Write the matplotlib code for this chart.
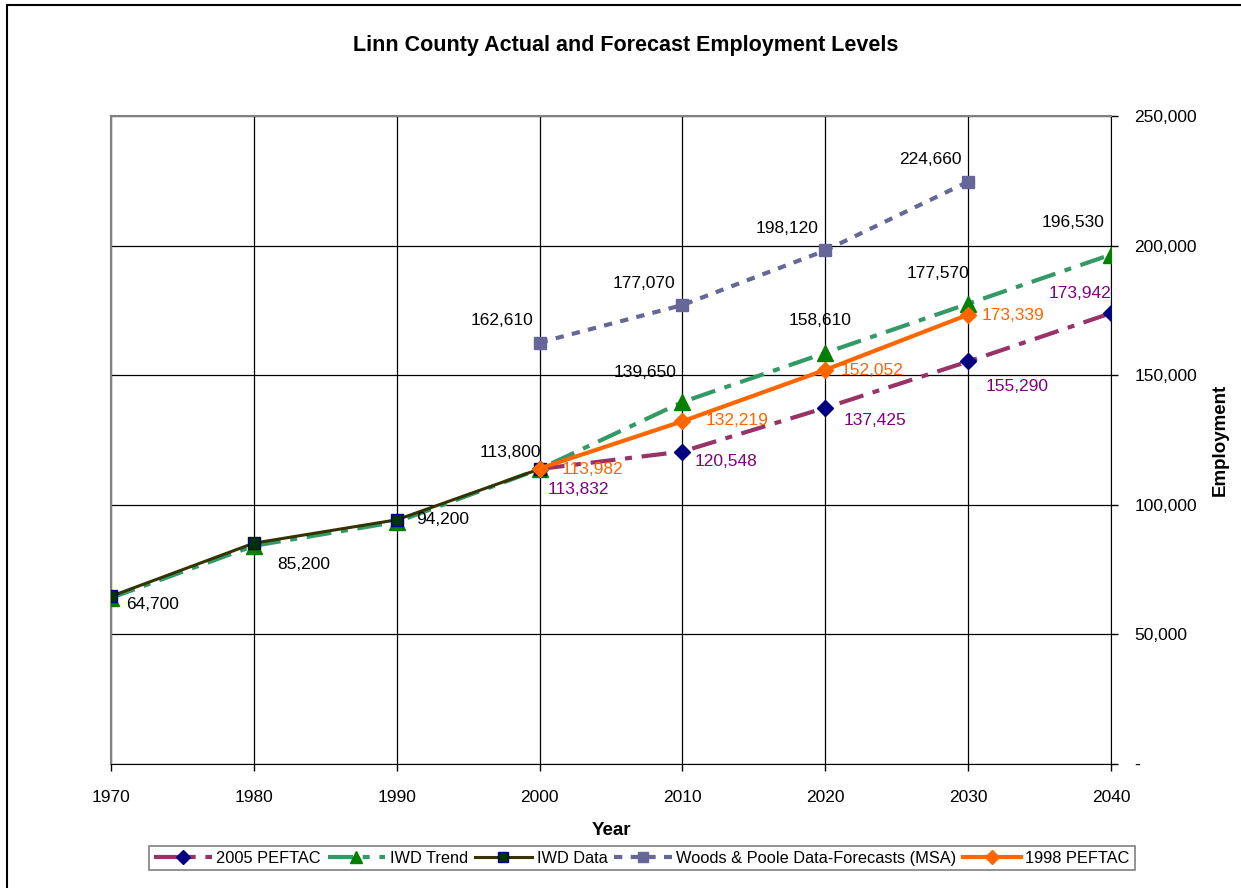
import matplotlib
matplotlib.use('Agg')
import matplotlib.pyplot as plt
from matplotlib.patches import Rectangle
from matplotlib.ticker import FuncFormatter

plt.rcParams['font.family'] = ['Liberation Sans', 'DejaVu Sans']
plt.rcParams['lines.scale_dashes'] = False

# data
years_all = [1970, 1980, 1990, 2000, 2010, 2020, 2030, 2040]
years_fc = [2000, 2010, 2020, 2030, 2040]
years_wp = [2000, 2010, 2020, 2030]
years_data = [1970, 1980, 1990, 2000]

peftac_2005 = [113832, 120548, 137425, 155290, 173942]
iwd_trend = [64100, 84200, 93400, 113800, 139650, 158610, 177570, 196530]
iwd_data = [64700, 85200, 94200, 113800]
woods_poole = [162610, 177070, 198120, 224660]
peftac_1998 = [113982, 132219, 152052, 173339]

fig = plt.figure(figsize=(12.41, 8.88), dpi=100)
ax = fig.add_axes([111 / 1241, 1 - 764 / 888, 1000 / 1241, 648 / 888])

# outer chart border (right and bottom edges fall outside the image)
fig.patches.append(Rectangle((7 / 1241, -0.05), 1.1, 1.05 - 5 / 888,
                             transform=fig.transFigure, fill=False,
                             edgecolor='black', linewidth=1.5))

ax.plot(years_all, iwd_trend, color='#339966', lw=3, dashes=(18, 7, 5, 7),
        marker='^', ms=11, mfc='#008000', mec='#008000', zorder=3,
        label='IWD Trend')
ax.plot(years_data, iwd_data, color='#333300', lw=2.2,
        marker='s', ms=8.5, mfc='#003300', mec='#000080', zorder=4,
        label='IWD Data')
ax.plot(years_wp, woods_poole, color='#666699', lw=3, dashes=(6, 6),
        marker='s', ms=8, mfc='#666699', mec='#666699', zorder=3,
        label='Woods & Poole Data-Forecasts (MSA)')
ax.plot(years_fc, peftac_2005, color='#993366', lw=3, dashes=(18, 7, 5, 7),
        marker='D', ms=8, mfc='#000080', mec='#000080', zorder=5,
        label='2005 PEFTAC')
ax.plot(years_wp, peftac_1998, color='#FF6600', lw=3,
        marker='D', ms=8, mfc='#FF6600', mec='#FF6600', zorder=6,
        label='1998 PEFTAC')

fs = 12.5


def lab(x, y, txt, dx, dy, color='black', ha='center'):
    ax.annotate(txt, (x, y), xytext=(dx, dy), textcoords='offset pixels',
                ha=ha, va='center', fontsize=fs, color=color, zorder=7)


def fmt(v):
    return f'{v:,}'

# IWD data labels
lab(1970, iwd_data[0], fmt(iwd_data[0]), 42, -8)
lab(1980, iwd_data[1], fmt(iwd_data[1]), 50, -21)
lab(1990, iwd_data[2], fmt(iwd_data[2]), 46, 0)
lab(2000, iwd_data[3], fmt(iwd_data[3]), -29, 17)
# IWD trend labels
for y, v, dx, dy in zip(years_all[4:], iwd_trend[4:], [-37, -5, -30, -38], [30, 32, 30, 32]):
    lab(y, v, fmt(v), dx, dy)
# Woods & Poole labels
for y, v in zip(years_wp, woods_poole):
    lab(y, v, fmt(v), -38, 22)
# 2005 PEFTAC labels
for y, v, dx, dy in zip(years_fc, peftac_2005, [39, 44, 50, 49, -31],
                        [-21, -10, -13, -25, 20]):
    lab(y, v, fmt(v), dx, dy, color='#800080')
# 1998 PEFTAC labels
for y, v, dx, dy in zip(years_wp, peftac_1998, [53, 55, 47, 45], [-1, 1, -1, -1]):
    lab(y, v, fmt(v), dx, dy, color='#FF6600')

ax.set_xlim(1970, 2040)
ax.set_ylim(0, 250000)
ax.set_xticks(years_all)
ax.set_yticks(range(0, 250001, 50000))
ax.yaxis.tick_right()
ax.yaxis.set_label_position('right')
ax.yaxis.set_major_formatter(FuncFormatter(lambda v, p: '-' if v == 0 else f'{int(v):,}'))
ax.tick_params(axis='both', labelsize=fs, length=5, width=1, color='black', direction='out')
ax.tick_params(axis='x', pad=14)
ax.tick_params(axis='y', pad=12)
ax.grid(True, color='black', linewidth=0.9)
ax.set_axisbelow(True)
ax.spines['top'].set_color('#808080')
ax.spines['left'].set_color('#808080')
for s in ['top', 'left']:
    ax.spines[s].set_linewidth(1.5)

ax.set_xlabel('Year', fontsize=13.5, fontweight='bold', labelpad=12)
ax.set_ylabel('Employment', fontsize=13.5, fontweight='bold', labelpad=10)
fig.text(626 / 1241, 1 - 45 / 888, 'Linn County Actual and Forecast Employment Levels',
         ha='center', va='center', fontsize=15.5, fontweight='bold')

handles, labels = ax.get_legend_handles_labels()
order = [3, 0, 1, 2, 4]
leg = fig.legend([handles[i] for i in order], [labels[i] for i in order],
                 loc='center', bbox_to_anchor=(642 / 1241, 1 - 858 / 888),
                 ncol=5, fontsize=11.8, frameon=True, fancybox=False,
                 edgecolor='#606060', handlelength=3.5, handletextpad=0.3,
                 columnspacing=0.4, borderpad=0.3, markerscale=0.85)
leg.get_frame().set_linewidth(1.2)

fig.savefig('out.png', dpi=100)
